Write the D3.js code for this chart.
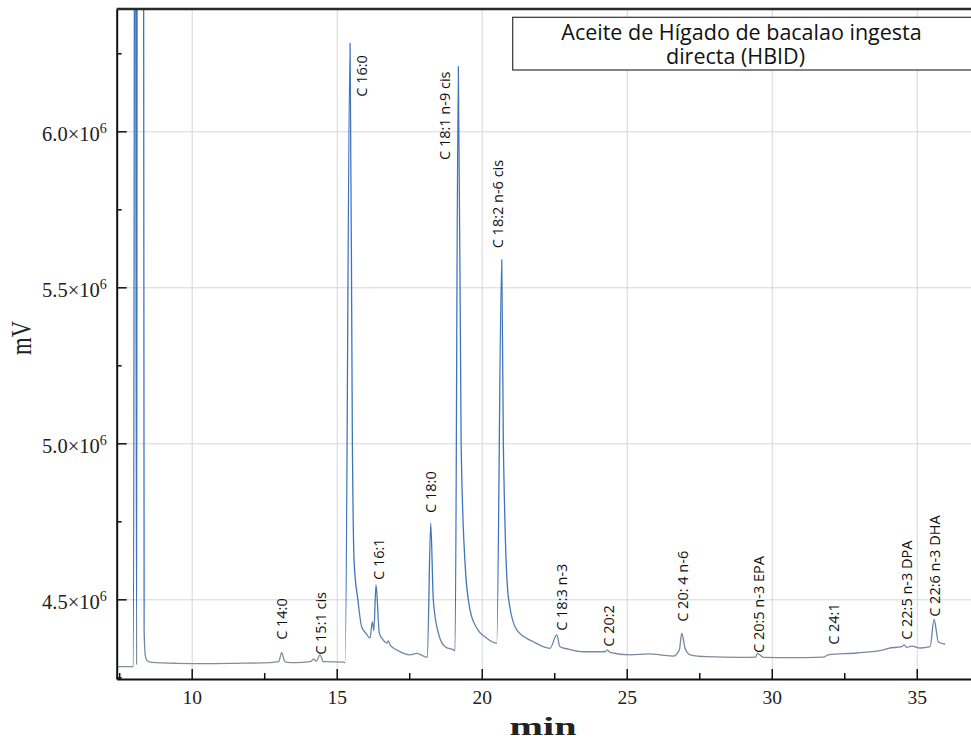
<!DOCTYPE html>
<html>
<head>
<meta charset="utf-8">
<script src="https://cdn.jsdelivr.net/npm/d3@7"></script>
<style>
body { margin: 0; background: #fff; }
</style>
</head>
<body>
<svg id="chart" width="971" height="742"></svg>
<script>
// retention time (min) and detector signal (in units of 10^6 mV)
var times = [7.414, 7.99, 8.05, 8.10, 8.13, 8.33, 8.36, 8.40, 8.45, 8.62, 9.48, 10.5, 11.5, 12.7,
    13.0, 13.103, 13.2, 13.276, 13.6, 14.079, 14.217, 14.29, 14.424, 14.538, 15.228, 15.29,
    15.46, 15.54, 15.6, 15.73, 15.86, 16.0, 16.148, 16.228, 16.28, 16.355, 16.469, 16.6,
    16.724, 16.779, 16.85, 17.069, 17.528, 17.759, 18.124, 18.241, 18.331, 18.503, 18.734,
    19.021, 19.08, 19.193, 19.29, 19.424, 19.597, 19.828, 20.172, 20.517, 20.69, 20.745,
    20.917, 21.207, 21.779, 22.355, 22.586, 22.7, 23.0, 23.503, 24.25, 24.331, 24.42, 25.114,
    25.8, 26.148, 26.607, 26.814, 26.897, 27.01, 27.183, 27.759, 28.907, 29.45, 29.503, 29.71,
    30.631, 31.779, 31.952, 32.931, 33.848, 34.021, 34.483, 34.562, 34.655, 34.828, 35.114,
    35.459, 35.597, 35.745, 35.976];
var signal = [4.284, 4.284, 8.0, 4.290, 8.0, 8.0, 4.40, 4.32, 4.305, 4.298, 4.295, 4.294, 4.295, 4.297,
    4.300, 4.329, 4.303, 4.298, 4.297, 4.300, 4.308, 4.301, 4.322, 4.300, 4.299, 4.297,
    6.282, 5.0, 4.62, 4.498, 4.412, 4.392, 4.376, 4.428, 4.40, 4.546, 4.392, 4.370,
    4.360, 4.367, 4.352, 4.338, 4.322, 4.327, 4.314, 4.744, 4.498, 4.392, 4.348,
    4.338, 4.335, 6.207, 5.0, 4.616, 4.466, 4.408, 4.375, 4.359, 5.588, 5.0,
    4.508, 4.402, 4.364, 4.343, 4.386, 4.348, 4.340, 4.332, 4.332, 4.338, 4.330, 4.322,
    4.325, 4.322, 4.318, 4.338, 4.391, 4.344, 4.322, 4.316, 4.314, 4.315, 4.327, 4.314,
    4.313, 4.315, 4.322, 4.328, 4.338, 4.343, 4.348, 4.354, 4.346, 4.350, 4.344,
    4.348, 4.436, 4.363, 4.356];

// peak annotations: name, retention time, signal level where the label starts
var peakNames = ['C 14:0', 'C 15:1 cis', 'C 16:0', 'C 16:1', 'C 18:0', 'C 18:1 n-9 cis',
    'C 18:2 n-6 cis', 'C 18:3 n-3', 'C 20:2', 'C 20: 4 n-6', 'C 20:5 n-3 EPA', 'C 24:1',
    'C 22:5 n-3 DPA', 'C 22:6 n-3 DHA'];
var peakTimes = [13.10, 14.46, 15.88, 16.47, 18.24, 18.73, 20.57, 22.78, 24.40, 26.93, 29.56,
    32.15, 34.68, 35.63];
var peakLabelY = [4.370, 4.322, 6.111, 4.562, 4.777, 5.908, 5.625, 4.399, 4.348, 4.428, 4.328,
    4.354, 4.370, 4.444];

var xTicks = [10, 15, 20, 25, 30, 35];
var xMinor = [7.5, 12.5, 17.5, 22.5, 27.5, 32.5];
var yTicks = [4.5, 5.0, 5.5, 6.0];
var yMinor = [4.25, 4.75, 5.25, 5.75, 6.25];
var legendLines = ['Aceite de Hígado de bacalao ingesta', 'directa (HBID)'];

var svg = d3.select('#chart');
var L = 116.7, R = 971, T = 9, B = 679;
var serif = '"Liberation Serif", "DejaVu Serif", serif';
var sans = '"Open Sans", "Noto Sans", sans-serif';

var x = d3.scaleLinear().domain([7.414, 36.87]).range([L, R]);
var y = d3.scaleLinear().domain([4.2446, 6.392]).range([B, T]);

function drawGrid() {
    svg.append('g')
        .attr('class', 'gridX')
        .attr('transform', 'translate(0,' + B + ')')
        .call(d3.axisBottom(x).tickValues(xTicks).tickSize(-(B - T)).tickFormat(''))
        .call(function(g) { g.select('.domain').remove(); })
        .selectAll('line').style('stroke', '#d6d6d6').style('stroke-width', '1px');
    svg.append('g')
        .attr('class', 'gridY')
        .attr('transform', 'translate(' + L + ',0)')
        .call(d3.axisLeft(y).tickValues(yTicks).tickSize(-(R - L)).tickFormat(''))
        .call(function(g) { g.select('.domain').remove(); })
        .selectAll('line').style('stroke', '#d6d6d6').style('stroke-width', '1px');
}

function drawTrace() {
    var defs = svg.append('defs');
    defs.append('clipPath').attr('id', 'plotClip')
        .append('rect')
        .attr('x', L).attr('y', T)
        .attr('width', R - L).attr('height', B - T);
    var grad = defs.append('linearGradient')
        .attr('id', 'traceGrad')
        .attr('gradientUnits', 'userSpaceOnUse')
        .attr('x1', 0).attr('x2', 0)
        .attr('y1', y(4.5)).attr('y2', y(4.3));
    grad.append('stop').attr('offset', 0).attr('stop-color', '#3f74bd');
    grad.append('stop').attr('offset', 1).attr('stop-color', '#858d98');

    var pts = times.map(function(t, i) { return {t: t, v: signal[i]}; });
    var lineGen = d3.line()
        .x(function(d) { return x(d.t); })
        .y(function(d) { return y(d.v); })
        .curve(d3.curveMonotoneX);
    svg.append('path')
        .attr('class', 'trace')
        .attr('d', lineGen(pts))
        .attr('clip-path', 'url(#plotClip)')
        .style('fill', 'none')
        .style('stroke', 'url(#traceGrad)')
        .style('stroke-width', '1.3px');
}

function drawAxes() {
    var xAxis = svg.append('g')
        .attr('transform', 'translate(0,' + B + ')')
        .call(d3.axisBottom(x).tickValues(xTicks).tickSize(-10).tickSizeOuter(0).tickPadding(11));
    xAxis.select('.domain').style('stroke', '#111').style('stroke-width', '2px');
    xAxis.selectAll('.tick line').style('stroke', '#111').style('stroke-width', '1.5px');
    xAxis.selectAll('text')
        .style('font-family', serif)
        .style('font-size', '19.5px')
        .style('fill', '#222');
    svg.append('g')
        .attr('transform', 'translate(0,' + B + ')')
        .call(d3.axisBottom(x).tickValues(xMinor).tickSize(-6).tickSizeOuter(0).tickFormat(''))
        .call(function(g) { g.select('.domain').remove(); })
        .selectAll('line').style('stroke', '#111').style('stroke-width', '1.5px');

    var yAxis = svg.append('g')
        .attr('transform', 'translate(' + L + ',0)')
        .call(d3.axisLeft(y).tickValues(yTicks).tickSize(-10).tickSizeOuter(0).tickPadding(10));
    yAxis.select('.domain').style('stroke', '#111').style('stroke-width', '2px');
    yAxis.selectAll('.tick line').style('stroke', '#111').style('stroke-width', '1.5px');
    yAxis.selectAll('text').each(function(d) {
        var t = d3.select(this).text(null)
            .attr('dy', '0.45em')
            .style('font-family', serif)
            .style('font-size', '20.5px')
            .style('fill', '#222');
        t.append('tspan').text(d.toFixed(1) + '×10');
        t.append('tspan').attr('dy', '-0.55em').style('font-size', '14px').text('6');
    });
    svg.append('g')
        .attr('transform', 'translate(' + L + ',0)')
        .call(d3.axisLeft(y).tickValues(yMinor).tickSize(-5).tickSizeOuter(0).tickFormat(''))
        .call(function(g) { g.select('.domain').remove(); })
        .selectAll('line').style('stroke', '#111').style('stroke-width', '1.5px');

    // heavy frame line along the top
    svg.append('line')
        .attr('x1', L).attr('x2', R)
        .attr('y1', T).attr('y2', T)
        .style('stroke', '#2a2a2a')
        .style('stroke-width', '2.5px');

    svg.append('text')
        .attr('transform', 'translate(31,338) rotate(-90)')
        .attr('text-anchor', 'middle')
        .attr('textLength', 34)
        .attr('lengthAdjust', 'spacingAndGlyphs')
        .style('font-family', serif)
        .style('font-size', '30px')
        .style('fill', '#222')
        .text('mV');
    svg.append('text')
        .attr('x', 543)
        .attr('y', 735)
        .attr('text-anchor', 'middle')
        .attr('textLength', 67)
        .attr('lengthAdjust', 'spacingAndGlyphs')
        .style('font-family', serif)
        .style('font-weight', 'bold')
        .style('font-size', '26px')
        .style('fill', '#222')
        .text('min');
}

function drawPeakLabels() {
    svg.append('g').attr('class', 'peakLabels')
        .selectAll('text')
        .data(peakNames)
        .join('text')
        .attr('transform', function(d, i) {
            return 'translate(' + (x(peakTimes[i]) + 5) + ',' + y(peakLabelY[i]) + ') rotate(-90)';
        })
        .style('font-family', sans)
        .style('font-size', '14.5px')
        .style('fill', '#111')
        .text(function(d) { return d; });
}

function drawLegend() {
    svg.append('rect')
        .attr('x', 512.7).attr('y', 17.3)
        .attr('width', 480).attr('height', 52.7)
        .style('fill', '#fff')
        .style('stroke', '#333')
        .style('stroke-width', '1.2px');
    var txt = svg.append('text')
        .attr('text-anchor', 'middle')
        .style('font-family', sans)
        .style('font-size', '21.5px')
        .style('fill', '#111');
    txt.selectAll('tspan')
        .data(legendLines)
        .join('tspan')
        .attr('x', function(d, i) { return i === 0 ? 741.5 : 735.5; })
        .attr('y', function(d, i) { return 39.5 + i * 24.5; })
        .text(function(d) { return d; });
}

drawGrid();
drawTrace();
drawAxes();
drawPeakLabels();
drawLegend();
</script>
</body>
</html>
